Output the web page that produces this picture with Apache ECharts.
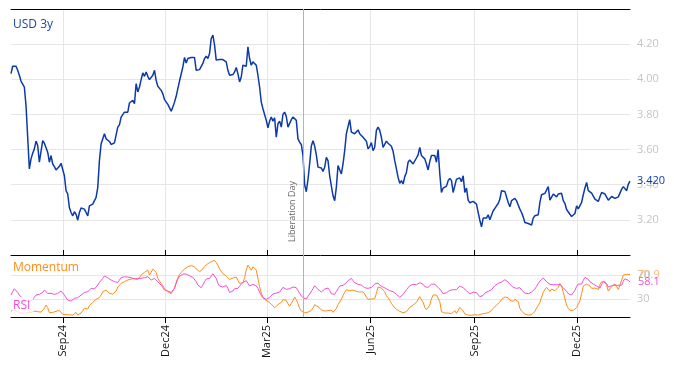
<!DOCTYPE html>
<html><head><meta charset="utf-8">
<script src="https://cdn.jsdelivr.net/npm/echarts@6/dist/echarts.min.js"></script>
<style>html,body{margin:0;padding:0;background:#fff}#c{width:674px;height:366px}</style>
</head><body><div id="c"></div>
<script>
// ---- data ----
const startDate = [2024, 7, 17];   // first observation (y, m, d)
const endDate = [2026, 1, 17];     // last observation (y, m, d)
const tickDates = ['2024-09-01', '2024-12-01', '2025-03-01', '2025-06-01', '2025-09-01', '2025-12-01'];
const tickLabels = ['Sep24', 'Dec24', 'Mar25', 'Jun25', 'Sep25', 'Dec25'];
const eventDate = '2025-04-02';
const eventLabel = 'Liberation Day';
const seriesNames = ['USD 3y', 'Momentum', 'RSI'];
const oscTicks = [30, 70];

const usd3y = [
4.032,4.074,4.084,4.074,4.051,4.023,3.990,3.985,3.956,3.851,
3.670,3.490,3.547,3.579,3.604,3.648,3.623,3.528,3.537,3.651,
3.636,3.632,3.585,3.528,3.566,3.518,3.503,3.484,3.490,3.505,
3.522,3.518,3.451,3.366,3.347,3.270,3.242,3.223,3.246,3.232,
3.198,3.242,3.267,3.259,3.261,3.242,3.223,3.280,3.280,3.290,
3.290,3.328,3.385,3.537,3.632,3.642,3.690,3.661,3.661,3.646,
3.629,3.623,3.638,3.642,3.728,3.741,3.785,3.775,3.813,3.823,
3.813,3.865,3.870,3.880,3.861,3.975,3.928,3.956,3.998,4.036,
4.017,4.042,4.017,3.998,3.998,4.023,4.051,3.994,3.960,3.971,
3.937,3.918,3.884,3.890,3.857,
3.851,3.819,3.842,3.870,3.903,3.947,3.990,3.998,4.070,4.124,
4.093,4.118,4.128,4.124,4.128,4.124,4.051,4.061,4.055,4.061,
4.090,4.118,4.131,4.118,4.147,4.232,4.251,4.194,4.109,4.118,
4.112,4.118,4.112,4.116,4.099,4.051,4.023,4.032,4.027,4.042,
4.067,4.032,3.985,4.013,4.080,4.090,4.074,4.185,4.118,4.080,
4.099,4.105,4.080,4.023,3.956,3.870,3.832,3.800,3.766,3.724,
3.762,3.785,3.762,3.781,3.670,3.747,3.762,3.728,3.800,3.813,
3.789,3.728,3.718,3.770,3.785,3.781,3.766,3.661,3.642,3.629,
3.566,3.400,3.360,3.430,3.520,3.620,3.650,3.620,3.570,3.500,
3.490,3.495,3.476,3.499,3.556,3.537,3.451,3.394,3.337,3.309,
3.385,3.509,3.518,3.461,3.518,3.594,3.690,3.731,3.770,3.699,
3.699,3.690,3.686,3.712,3.690,3.686,3.670,3.667,3.648,3.604,
3.617,3.640,3.594,3.613,3.709,3.728,3.709,3.670,3.613,3.623,
3.648,3.636,3.629,3.619,3.590,3.537,3.490,3.442,3.408,3.423,
3.404,3.446,3.470,3.528,3.541,3.552,3.518,3.528,3.552,3.570,
3.613,3.566,3.575,3.547,3.518,3.484,3.533,3.566,3.575,3.566,
3.528,3.600,3.461,3.356,3.381,3.390,3.392,3.423,3.436,3.423,
3.356,3.394,3.432,3.423,3.438,3.417,3.451,3.356,3.381,
3.312,3.297,3.295,3.305,3.312,3.290,3.242,3.198,3.160,3.210,
3.204,3.210,3.229,3.200,3.198,3.252,3.265,3.280,3.293,3.318,
3.366,3.377,3.362,3.351,3.299,3.274,3.309,3.312,3.322,3.309,
3.318,3.261,3.242,3.217,3.185,3.175,3.179,3.175,3.171,3.210,
3.223,3.232,3.229,3.299,3.343,3.341,3.351,3.351,3.389,3.312,
3.322,3.347,3.354,3.331,3.347,3.356,3.351,3.309,3.293,3.259,
3.248,3.232,3.219,3.225,3.236,3.280,3.263,3.261,3.299,3.343,
3.381,3.413,3.366,3.364,3.352,3.335,3.318,3.314,3.305,3.331,
3.356,3.360,3.347,3.337,3.312,3.307,3.333,3.333,3.322,3.330,
3.331,3.341,3.375,3.389,3.385,3.366,3.404,3.420
];

const momentum = [
9.9,11,11.6,10.5,8.8,7.7,6.6,6,6,6.6,
7.1,7.1,7.7,8.8,9.9,11.6,8.8,6,8.2,11,
14.4,19.9,15.5,7.1,8.8,7.7,8.8,9.4,9.9,11,
11,4.4,2.7,3.8,4.4,3.8,3.2,3.2,4.4,7.7,
3.2,4.4,6.6,9.9,14.4,17.1,13.2,18.8,18.8,24.4,
27.1,29.4,31,32.7,36.6,42.1,43.8,44.9,43.2,39.4,
36.6,38.2,39.4,43.2,49.9,53.2,56,57.7,58.8,59.9,
61.6,62.1,63.2,63.8,64.4,64.4,62.1,65.5,69.9,72.1,
74.4,75.5,78.2,69.9,74.4,79.9,81,74.4,64.4,59.9,
56,52.1,47.7,44.9,42.1,39.9,38.8,41,48.8,57.7,
65.5,71,74.4,77.7,79.9,82.1,83.8,84.9,85.5,84.9,
83.8,79.9,76.6,75.5,76.6,79.9,84.4,87.7,88.8,89.4,
92.1,94.4,94.4,
91,86,80.5,76,72.1,70.5,68.2,65.5,62.7,63.2,
64.9,65.5,66.6,65.5,56,53.2,57.1,65.5,78.2,86.6,
87.1,78.2,83.8,84.4,78.2,64.4,50.5,39.9,33.2,29.4,
27.7,26,23.8,21.6,18.8,15.5,17.7,20.5,22.1,24.4,
28.8,31.6,27.7,22.1,18.2,19.3,27.1,33.2,28.8,22.1,
14.4,9.9,8.2,7.1,7.7,8.2,9.4,11,14.9,20.5,
21.6,17.1,14.4,12.1,10.5,9.9,9.4,10.5,13.8,11.6,
7.7,8.8,14.4,20.5,24.9,29.4,35.5,41,45.5,46,
43.8,44.4,44.9,43.8,42.7,41.6,41.6,42.7,42.1,38.2,
33.2,29.4,28.2,29.9,29.4,30.5,39.4,49.9,50.5,48.2,
47.1,42.1,35.5,32.1,27.7,22.7,18.8,15.5,12.7,10.5,
9.4,8.2,7.1,7.7,8.8,12.1,16.1,18.8,19.9,21.6,
24.4,27.1,33.8,
33.2,24.4,16.1,12.1,12.7,19.9,30.5,36.6,33.8,36.6,
37.7,25.5,8.8,7.1,6.6,6,6.6,7.1,5.5,8.8,
10.5,6,11,16.1,17.1,9.9,4.9,3.8,3.2,2.1,
2.7,3.8,3.8,2.7,3.2,3.8,4.9,6,6,6,
7.1,8.2,11,14.4,17.1,19.9,22.7,24.9,29.4,31.6,
33.2,33.8,32.1,27.7,25.5,26,29.4,32.7,25.5,14.4,
9.9,7.1,4.9,3.8,3.2,3.2,3.8,5.5,9.4,14.9,
18.8,24.4,33.2,41,46,49.4,47.7,42.7,46.6,46,
43.8,47.1,49.4,56,52.1,41,29.9,19.9,14.4,11,
9.9,11,13.2,15.5,21,27.1,39.4,51.6,54.9,54.9,
53.8,51.6,47.7,47.1,48.2,44.9,46,53.8,58.8,61,
58.8,52.7,43.2,43.8,51,53.2,54.9,50.5,46,46.6,
61.6,69.9,71,71,71,70.9
];

const rsi = [
36.6,42.1,47.1,44.9,41,36.6,33.8,31,28.2,26.6,
25.5,25.5,25.5,28.2,33.2,36.6,39.4,37.7,36.6,41,
44.9,42.1,39.4,38.8,39.4,38.2,37.7,38.8,39.4,41,
43.2,41,36.6,32.1,28.2,26.6,26.6,28.2,31,31.6,
32.1,34.4,36.6,38.8,41,41.6,42.1,44.9,47.7,47.1,
46.6,49.9,53.2,57.7,61,64.4,68.2,67.7,65.5,63.2,
61.6,59.9,58.8,58.2,57.7,61.6,65.5,66.6,67.1,67.1,
66.6,66,65.5,64.4,63.2,63.8,64.4,64.4,64.4,64.9,
65.5,66.6,67.1,64.4,61.6,63.2,64.4,62.1,58.8,56,
53.2,48.8,44.9,43.8,43.2,42.1,41,43.2,47.7,56,
63.2,67.7,69.9,71.6,72.7,71.6,69.9,68.8,67.1,66,
64.4,58.8,53.2,50.5,48.8,53.2,58.8,63.2,65.5,64.4,
64.4,72.1,68.8,
64.4,56,51.6,49.4,49.9,51,52.7,47.7,41,40.5,
43.2,47.1,47.1,47.7,51.6,54.9,57.7,60.5,60.5,56,
51.6,52.1,54.4,53.8,51.6,47.7,41.6,36,32.1,29.9,
29.4,30.5,32.7,35.5,38.2,40.5,39.9,40.5,41.6,44.9,
49.4,49.4,46,46,47.1,48.2,49.9,52.1,48.8,43.8,
39.4,35.5,32.1,29.4,29.9,34.4,38.2,41,47.1,52.1,
49.9,46,43.2,41.6,43.2,46.6,49.4,48.2,44.4,38.8,
36,37.7,42.7,47.1,51.6,52.7,52.7,53.8,57.1,60.5,
63.8,64.4,60.5,57.1,54.9,54.4,53.8,53.2,51.6,48.8,
48.2,47.7,47.1,49.4,52.1,54.9,57.1,56.6,52.7,49.4,
49.9,48.8,47.1,45.5,43.8,42.7,42.1,40.5,37.7,34.9,
32.7,33.8,37.7,41.6,45.5,48.8,52.1,53.8,54.4,53.8,
53.8,54.9,57.1,
57.1,54.4,50.5,48.2,49.4,52.1,54.9,56,54.4,51.6,
49.4,47.7,43.2,38.8,38.8,40.5,42.1,44.4,46,45.5,
43.8,45.5,48.8,51.6,51.6,48.8,47.1,43.8,40.5,38.2,
38.2,41.6,42.7,40.5,37.7,33.8,32.7,36,39.9,42.7,
42.7,42.7,45.5,48.8,52.1,54.9,56,57.1,58.2,59.3,
62.1,62.7,58.2,54.4,51.6,49.4,47.1,47.7,49.9,48.8,
44.9,41.6,39.9,38.2,38.8,40.5,41.6,43.8,46.6,51,
56,59.9,63.2,64.9,63.2,58.8,56.6,54.4,53.2,53.8,
53.8,53.8,54.4,53.8,51.6,48.8,46,42.7,38.8,37.1,
36.6,38.2,44.4,51,54.9,54.4,54.9,61,66,66,
62.7,58.8,56.6,54.9,53.8,51.6,48.8,48.2,54.4,58.8,
59.3,55.4,49.9,49.4,52.1,52.7,53.2,53.8,52.7,51.6,
53.2,59.9,63.8,63.2,61,58.1
];

// ---- build ----
const BLUE = '#0d3aa9', ORANGE = '#ff8c1a', PINK = '#f24fd4', GRID = '#e6e6e6', LBL = '#c4c4c4';
const FONT = '"Open Sans", sans-serif';
function toTime(s){ const p = s.split('-').map(Number); return new Date(p[0], p[1]-1, p[2]).getTime(); }
const t0 = new Date(startDate[0], startDate[1]-1, startDate[2]).getTime();
const t1 = new Date(endDate[0], endDate[1]-1, endDate[2]).getTime();
const N = usd3y.length;
const times = usd3y.map((_, i) => t0 + i * (t1 - t0) / (N - 1));
const tickTimes = tickDates.map(toTime);
const evT = toTime(eventDate);
function labelFor(v){
  let best = 0, bd = Infinity;
  tickTimes.forEach((t, k) => { const d = Math.abs(t - v); if (d < bd) { bd = d; best = k; } });
  return tickLabels[best];
}
const pairs = arr => arr.map((v, i) => [times[i], v]);

const chart = echarts.init(document.getElementById('c'), null, {renderer: 'canvas'});
chart.setOption({
  animation: false,
  textStyle: {fontFamily: FONT},
  grid: [
    {left: 11, right: 44, top: 9, height: 246},
    {left: 11, right: 44, top: 255, height: 62}
  ],
  xAxis: [
    {type: 'value', gridIndex: 0, min: t0, max: t1, position: 'bottom', scale: true,
     axisLine: {lineStyle: {color: '#000', width: 1}},
     axisTick: {show: true, inside: true, length: 5, lineStyle: {color: '#000'}, customValues: tickTimes},
     axisLabel: {show: false, customValues: tickTimes},
     splitLine: {show: true, lineStyle: {color: GRID, width: 1}}},
    {type: 'value', gridIndex: 1, min: t0, max: t1, position: 'bottom', scale: true,
     axisLine: {lineStyle: {color: '#000', width: 1}},
     axisTick: {show: true, length: 6, lineStyle: {color: '#000'}, customValues: tickTimes},
     axisLabel: {show: true, rotate: 90, margin: 8, color: '#111', fontSize: 11, fontFamily: FONT,
                 customValues: tickTimes, formatter: v => labelFor(v)},
     splitLine: {show: true, lineStyle: {color: GRID, width: 1}}},
    {type: 'value', gridIndex: 0, min: t0, max: t1, position: 'top', scale: true,
     axisLine: {lineStyle: {color: '#000', width: 1}},
     axisTick: {show: false}, axisLabel: {show: false}, splitLine: {show: false}}
  ],
  yAxis: [
    {type: 'value', gridIndex: 0, position: 'right', min: 3.0, max: 4.4, interval: 0.2,
     axisLine: {show: false}, axisTick: {show: false},
     axisLabel: {color: LBL, fontSize: 11, margin: 7, fontFamily: FONT,
                 formatter: v => (v < 3.1 || v > 4.3) ? '' : v.toFixed(2)},
     splitLine: {show: true, lineStyle: {color: GRID, width: 1}}},
    {type: 'value', gridIndex: 1, position: 'right', min: 0, max: 103.3,
     axisLine: {show: false}, axisTick: {show: false, customValues: oscTicks},
     axisLabel: {color: LBL, fontSize: 11, margin: 7, fontFamily: FONT, customValues: oscTicks},
     splitLine: {show: true, lineStyle: {color: GRID, width: 1}}}
  ],
  series: [
    {name: seriesNames[0], type: 'line', xAxisIndex: 0, yAxisIndex: 0, data: pairs(usd3y),
     showSymbol: false, symbol: 'none', lineStyle: {color: BLUE, width: 1.5}, itemStyle: {color: BLUE}, z: 3,
     endLabel: {show: true, formatter: p => p.value[1].toFixed(3), color: BLUE, fontSize: 11, distance: 7, fontFamily: FONT},
     markLine: {silent: true, symbol: 'none', animation: false,
       lineStyle: {color: '#b4b4b4', width: 1, type: 'solid'},
       label: {show: true, formatter: eventLabel, position: 'insideStartTop', distance: [13, 6],
               color: '#666', fontSize: 9, fontFamily: FONT},
       data: [{xAxis: evT}]}},
    {name: seriesNames[1], type: 'line', xAxisIndex: 1, yAxisIndex: 1, data: pairs(momentum),
     showSymbol: false, symbol: 'none', lineStyle: {color: ORANGE, width: 1}, itemStyle: {color: ORANGE}, z: 2,
     endLabel: {show: true, formatter: p => p.value[1].toFixed(1), color: '#ffb36b', fontSize: 11, distance: 8, fontFamily: FONT},
     markLine: {silent: true, symbol: 'none', animation: false,
       lineStyle: {color: '#b4b4b4', width: 1, type: 'solid'}, label: {show: false},
       data: [{xAxis: evT}]}},
    {name: seriesNames[2], type: 'line', xAxisIndex: 1, yAxisIndex: 1, data: pairs(rsi),
     showSymbol: false, symbol: 'none', lineStyle: {color: PINK, width: 1}, itemStyle: {color: PINK}, z: 3,
     endLabel: {show: true, formatter: p => p.value[1].toFixed(1), color: PINK, fontSize: 11, distance: 8, fontFamily: FONT}}
  ],
  graphic: [
    {type: 'text', z: 100, style: {x: 13, y: 25, text: seriesNames[0], fill: '#1f48a8', font: '12px ' + FONT, verticalAlign: 'middle'}},
    {type: 'text', z: 100, style: {x: 13, y: 268, text: seriesNames[1], fill: ORANGE, font: '12px ' + FONT, verticalAlign: 'middle',
      backgroundColor: 'rgba(255,255,255,0.75)', padding: [1, 2, 1, 0]}},
    {type: 'text', z: 100, style: {x: 12, y: 306, text: seriesNames[2], fill: PINK, font: '12px ' + FONT, verticalAlign: 'middle',
      backgroundColor: 'rgba(255,255,255,0.75)', padding: [3, 3, 3, 1]}}
  ]
});
</script>
</body></html>
